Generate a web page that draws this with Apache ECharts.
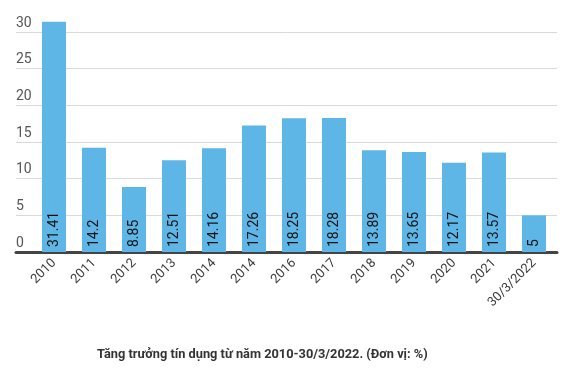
<!DOCTYPE html>
<html><head><meta charset="utf-8">
<script src="https://cdn.jsdelivr.net/npm/echarts@6/dist/echarts.min.js"></script>
<style>html,body{margin:0;padding:0;background:#fff}#c{width:572px;height:383px}</style>
</head><body><div id="c"></div>
<script>
const categories = ['2010','2011','2012','2013','2014','2014','2016','2017','2018','2019','2020','2021','30/3/2022'];
const values = [31.41, 14.2, 8.85, 12.51, 14.16, 17.26, 18.25, 18.28, 13.89, 13.65, 12.17, 13.57, 5];
const yTicks = {min: 0, max: 30, interval: 5};
const caption = 'Tăng trưởng tín dụng từ năm 2010-30/3/2022. (Đơn vị: %)';

const chart = echarts.init(document.getElementById('c'));
chart.setOption({
  animation: false,
  textStyle: {fontFamily: 'Roboto'},
  title: {
    text: caption, left: 92, top: 343,
    textStyle: {fontFamily: 'Roboto', fontSize: 12.8, fontWeight: 'bold', color: '#333'}
  },
  grid: [
    {left: 16, right: 15, top: 32, bottom: 131},
    {left: 34, right: 18, top: 32, bottom: 131}
  ],
  xAxis: [
    {gridIndex: 0, type: 'value', min: 0, max: 1, axisLabel: {show: false}, axisTick: {show: false},
     splitLine: {show: false}, axisLine: {show: true, lineStyle: {color: '#444', width: 3}}},
    {gridIndex: 1, type: 'category', data: categories, axisTick: {show: false}, axisLine: {show: false},
     axisLabel: {rotate: 45, margin: 9, interval: 0, fontSize: 13, color: '#3a3a3a', fontFamily: 'Roboto'}}
  ],
  yAxis: [
    {gridIndex: 0, type: 'value', min: yTicks.min, max: yTicks.max, interval: yTicks.interval,
     axisLine: {show: false}, axisTick: {show: false},
     splitLine: {lineStyle: {color: '#d9d9d9', width: 1}},
     axisLabel: {inside: true, margin: 0, align: 'left', verticalAlign: 'bottom', padding: [0,0,2,0],
                 fontSize: 14, color: '#555', fontFamily: 'Roboto'}},
    {gridIndex: 1, type: 'value', min: yTicks.min, max: yTicks.max, show: false}
  ],
  series: [{
    type: 'bar', xAxisIndex: 1, yAxisIndex: 1, data: values, barWidth: 24, clip: false,
    itemStyle: {color: '#5db6e6'},
    label: {show: true, position: 'insideBottom', rotate: 90, align: 'left', verticalAlign: 'middle',
            distance: 5, fontSize: 14, color: '#111', fontFamily: 'Roboto'}
  }]
});
</script></body></html>
